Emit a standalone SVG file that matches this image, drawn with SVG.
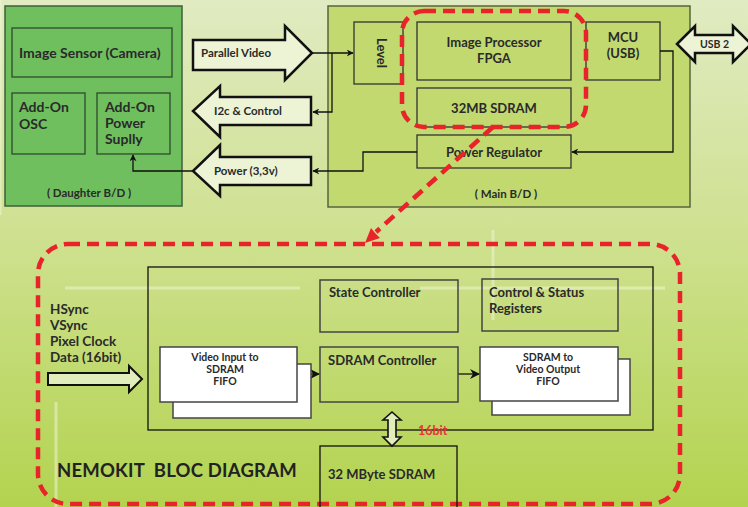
<svg xmlns="http://www.w3.org/2000/svg" width="748" height="507" viewBox="0 0 748 507">
<defs>
<linearGradient id="bg" x1="0" y1="0" x2="0" y2="1">
<stop offset="0" stop-color="#e1ebc2"/>
<stop offset="0.5" stop-color="#cde08c"/>
<stop offset="1" stop-color="#b3d34f"/>
</linearGradient>
<marker id="ah" viewBox="0 0 10 10" refX="9" refY="5" markerWidth="7" markerHeight="7" markerUnits="userSpaceOnUse" orient="auto">
<path d="M0,0 L10,5 L0,10 L3,5 Z" fill="#111"/>
</marker>
<marker id="ah2" viewBox="0 0 10 10" refX="9" refY="5" markerWidth="10" markerHeight="10" markerUnits="userSpaceOnUse" orient="auto">
<path d="M0,0 L10,5 L0,10 L3,5 Z" fill="#111"/>
</marker>
</defs>
<style>
text{font-family:Lato,"Open Sans","Liberation Sans",sans-serif;font-weight:bold;fill:#2a2a2a}
.db{fill:#6fbf5f;stroke:#3e5f3a;stroke-width:1.5}
.dbi{fill:#6fbf5f;stroke:#2f4a2c;stroke-width:1.3}
.mb{fill:#c1d96f;stroke:#55653d;stroke-width:1.5}
.mbi{fill:#c1d96f;stroke:#333;stroke-width:1.3}
.big{fill:none;stroke:#e8242a;stroke-width:4.5;stroke-dasharray:12 7}
.fat{fill:#edf4d6;stroke:#111;stroke-width:2.5;stroke-linejoin:miter}
.ln{fill:none;stroke:#111;stroke-width:1.3}
.lb{fill:none;stroke:#444;stroke-width:1.5}
.wb{fill:#fff;stroke:#444;stroke-width:1.5}
.t14{font-size:14px}
.t13{font-size:13px}
.t12{font-size:12px}
.t11{font-size:11.5px}
.t10{font-size:10.5px}
.c{text-anchor:middle}
</style>
<rect x="0" y="0" width="748" height="507" fill="url(#bg)"/>
<g stroke="#eef5d2" stroke-width="3" opacity="0.55" fill="none">
<line x1="0" y1="0" x2="0" y2="215"/>
<line x1="65" y1="288" x2="300" y2="288"/>
<line x1="420" y1="288" x2="665" y2="288"/>
<line x1="493" y1="230" x2="493" y2="320"/>
<line x1="56" y1="402" x2="56" y2="507"/>
</g>

<g id="daughter-board">
<rect class="db" x="5" y="6" width="177" height="200"/>
<text class="t11 c" x="89" y="197">( Daughter B/D )</text>
</g>
<g id="image-sensor">
<rect class="dbi" x="12" y="28" width="160" height="49"/>
<text class="t14" x="19" y="58">Image Sensor (Camera)</text>
</g>
<g id="addon-osc">
<rect class="dbi" x="12" y="93" width="73" height="61"/>
<text class="t14" x="19" y="112">Add-On</text>
<text class="t14" x="19" y="129">OSC</text>
</g>
<g id="addon-power">
<rect class="dbi" x="97" y="93" width="73" height="61"/>
<text class="t14" x="105" y="112">Add-On</text>
<text class="t14" x="105" y="128">Power</text>
<text class="t14" x="105" y="144">Suplly</text>
</g>

<g id="main-board">
<rect class="mb" x="328" y="6" width="362" height="201"/>
<text class="t11 c" x="506" y="198">( Main B/D )</text>
</g>
<g id="level">
<rect class="mbi" x="354" y="22" width="49" height="62"/>
<text class="t13 c" x="0" y="0" transform="translate(377,53) rotate(90)">Level</text>
</g>
<g id="fpga">
<rect class="mbi" x="417" y="22" width="154" height="58"/>
<text class="t13 c" x="494" y="47">Image Processor</text>
<text class="t13 c" x="494" y="63">FPGA</text>
</g>
<g id="sdram32mb">
<rect class="mbi" x="417" y="88" width="154" height="39"/>
<text class="t13 c" x="494" y="113">32MB SDRAM</text>
</g>
<g id="mcu">
<rect class="mbi" x="586" y="22" width="74" height="58"/>
<text class="t13 c" x="623" y="42">MCU</text>
<text class="t13 c" x="623" y="58">(USB)</text>
</g>
<g id="power-regulator">
<rect class="mbi" x="417" y="135" width="154" height="33"/>
<text class="t13 c" x="494" y="157">Power Regulator</text>
</g>

<g id="parallel-video">
<polygon class="fat" points="193,40 285,40 285,26 312,53 285,80 285,70 193,70"/>
<text class="t11" x="201" y="57">Parallel Video</text>
</g>
<g id="i2c-control">
<polygon class="fat" points="311,97 220,97 220,86 193,111 220,137 220,125 311,125"/>
<text class="t11" x="214" y="115">I2c &amp; Control</text>
</g>
<g id="power-33v">
<polygon class="fat" points="311,157 220,157 220,145 193,171 220,196 220,185 311,185"/>
<text class="t11" x="214" y="175">Power (3,3v)</text>
</g>
<g id="usb2">
<polygon class="fat" points="677,44 695,26 695,35 733,35 733,26 751,44 733,62 733,53 695,53 695,62"/>
<text class="t10" x="700" y="48">USB 2</text>
</g>

<g id="connectors">
<polyline class="ln" points="312,53 353,53" marker-end="url(#ah)"/>
<polyline class="ln" points="332,53 332,112 313,112" marker-end="url(#ah)"/>
<polyline class="ln" points="417,152 363,152 363,171 313,171" marker-end="url(#ah)"/>
<polyline class="ln" points="660,51 673,51 673,152 572,152" marker-end="url(#ah)"/>
<polyline class="ln" points="193,171 133,171 133,155" marker-end="url(#ah)"/>
<polyline class="ln" points="297,374 319,374" marker-end="url(#ah2)"/>
<polyline class="ln" points="458,374 479,374" marker-end="url(#ah2)"/>
<path d="M493,127 L376,232" fill="none" stroke="#e8242a" stroke-width="4.5" stroke-dasharray="12 7"/>
<polygon points="365,243 380,238 375,233 371,228" fill="#e8242a"/>
</g>

<g id="fpga-highlight">
<rect class="big" x="402" y="11" width="184" height="116" rx="22"/>
</g>

<g id="bloc-diagram">
<rect class="big" x="38" y="244" width="642" height="260" rx="30"/>
<rect x="148" y="267" width="505" height="163" fill="none" stroke="#111" stroke-width="1.3"/>
<text x="57" y="477" xml:space="preserve" style="font-size:18.5px;fill:#222;letter-spacing:0.2px">NEMOKIT  BLOC DIAGRAM</text>
</g>
<g id="input-signals">
<text class="t13" x="50" y="314" style="font-size:13.5px">HSync</text>
<text class="t13" x="50" y="330" style="font-size:13.5px">VSync</text>
<text class="t13" x="50" y="346" style="font-size:13.5px">Pixel Clock</text>
<text class="t13" x="50" y="362" style="font-size:13.5px">Data (16bit)</text>
<polygon points="48,373 129,373 129,366 142,379 129,392 129,385 48,385" fill="#e2edbc" stroke="#111" stroke-width="2"/>
</g>
<g id="state-controller">
<rect class="lb" x="320" y="280" width="138" height="52"/>
<text class="t13" x="329" y="297">State Controller</text>
</g>
<g id="control-status">
<rect class="lb" x="482" y="279" width="136" height="52"/>
<text class="t13" x="489" y="297">Control &amp; Status</text>
<text class="t13" x="489" y="313">Registers</text>
</g>
<g id="sdram-controller">
<rect class="lb" x="320" y="347" width="138" height="55"/>
<text class="t13" x="328" y="365">SDRAM Controller</text>
</g>
<g id="video-input-fifo">
<rect class="wb" x="173" y="364" width="138" height="54"/>
<rect class="wb" x="160" y="347" width="137" height="55"/>
<text class="t10 c" x="225" y="361">Video Input to</text>
<text class="t10 c" x="225" y="373">SDRAM</text>
<text class="t10 c" x="225" y="385">FIFO</text>
</g>
<g id="video-output-fifo">
<rect class="wb" x="492" y="359" width="138" height="56"/>
<rect class="wb" x="480" y="347" width="138" height="54"/>
<text class="t10 c" x="548" y="361">SDRAM to</text>
<text class="t10 c" x="548" y="373">Video Output</text>
<text class="t10 c" x="548" y="385">FIFO</text>
</g>
<g id="sdram-32mbyte">
<rect x="320" y="446" width="137" height="70" fill="none" stroke="#111" stroke-width="1.3"/>
<text class="t13" x="328" y="479">32 MByte SDRAM</text>
</g>
<g id="bus-16bit">
<polygon points="392,412 401,420 396,420 396,437 401,437 392,446 383,437 388,437 388,420 383,420" fill="#e2edbc" stroke="#111" stroke-width="1.6"/>
<text x="418" y="435" style="font-size:12.5px;fill:#e8343a">16bit</text>
</g>
</svg>
